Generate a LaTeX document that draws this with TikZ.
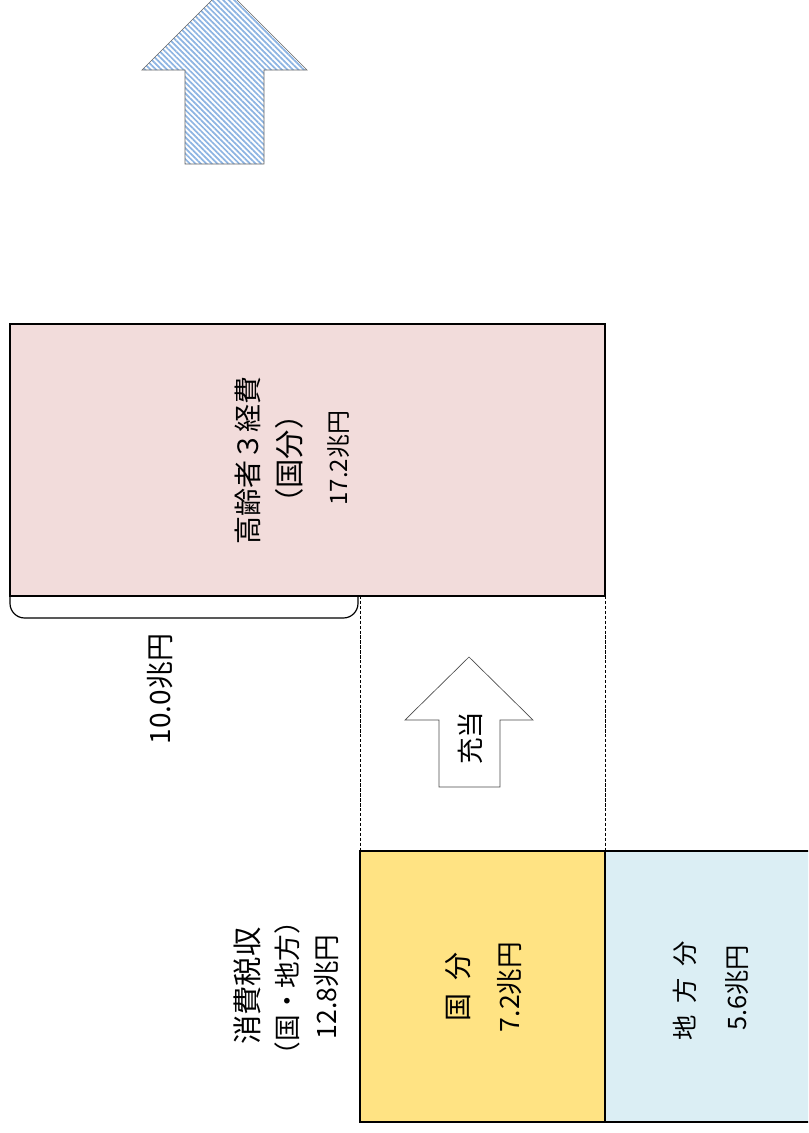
\documentclass[tikz,border=0pt]{standalone}
\usepackage{fontspec}
\setmainfont{Noto Sans CJK JP}
\usetikzlibrary{patterns.meta}
\definecolor{elderpink}{HTML}{F2DCDB}
\definecolor{kokuyellow}{HTML}{FFE383}
\definecolor{chihoblue}{HTML}{DBEEF4}
\definecolor{stripeblue}{HTML}{8DB4E2}
\tikzset{
  vtext/.style={rotate=90, inner sep=0pt},
  box/.style={draw=black, line width=0.9pt}
}
\begin{document}
\begin{tikzpicture}[x=0.75pt, y=-0.75pt]
  \useasboundingbox (0,0) rectangle (808,1133);
  \clip (0,0) rectangle (808,1133);
  % hatched arrow at the top
  \draw[draw=gray!80!black, line width=0.5pt,
        pattern={Lines[angle=-45, distance=2.9pt, line width=1.3pt]}, pattern color=stripeblue]
    (185,164) -- (185,70) -- (142,70) -- (224.5,-12.5) -- (307,70) -- (264,70) -- (264,164) -- cycle;
  % elderly expenses (national share)
  \draw[box, fill=elderpink] (10,324) rectangle (605,596);
  \node[vtext, font=\fontsize{21}{25}\selectfont] (elderTitle) at (248,460) {高齢者３経費};
  \node[vtext, font=\fontsize{22}{26}\selectfont] (elderShare) at (289,459) {（国分）};
  \node[vtext, font=\fontsize{18}{22}\selectfont] (elderAmount) at (339,458) {17.2兆円};
  % bracket under the covered part
  \draw[line width=0.9pt, rounded corners=11] (10,596) -- (10,618) -- (358,618) -- (358,596);
  \node[vtext, font=\fontsize{21}{25}\selectfont] (covered) at (160,689) {10.0兆円};
  % dashed guides
  \coordinate (guideLT) at (360,596);
  \coordinate (guideLB) at (360,851);
  \coordinate (guideRT) at (605,596);
  \coordinate (guideRB) at (605,851);
  \draw[line width=0.6pt, dash pattern=on 2.5pt off 1.2pt] (guideLT) -- (guideLB);
  \draw[line width=0.6pt, dash pattern=on 2.5pt off 1.2pt] (guideRT) -- (guideRB);
  % small arrow
  \draw[draw=gray!60!black, line width=0.5pt, fill=white]
    (439,787) -- (439,720) -- (405,720) -- (469,657) -- (533,720) -- (500,720) -- (500,787) -- cycle;
  \node[vtext, font=\fontsize{20}{24}\selectfont] (allot) at (470,738) {充当};
  % consumption tax revenue
  \node[vtext, font=\fontsize{22}{26}\selectfont] (taxTitle) at (247,986) {消費税収};
  \node[vtext, font=\fontsize{20}{24}\selectfont] (taxShare) at (287,988) {（国・地方）};
  \node[vtext, font=\fontsize{20}{24}\selectfont] (taxAmount) at (327,987) {12.8兆円};
  \draw[box, fill=kokuyellow] (360,851) rectangle (605,1122);
  \node[vtext, font=\fontsize{21}{25}\selectfont] (kokuTitle) at (458,987) {国\hspace{0.45em}分};
  \node[vtext, font=\fontsize{20}{24}\selectfont] (kokuAmount) at (510,987) {7.2兆円};
  \draw[box, fill=chihoblue] (605,851) rectangle (815,1122);
  \node[vtext, font=\fontsize{19}{23}\selectfont] (chihoTitle) at (685,991) {地\hspace{0.45em}方\hspace{0.45em}分};
  \node[vtext, font=\fontsize{19}{23}\selectfont] (chihoAmount) at (737,988) {5.6兆円};
\end{tikzpicture}
\end{document}
